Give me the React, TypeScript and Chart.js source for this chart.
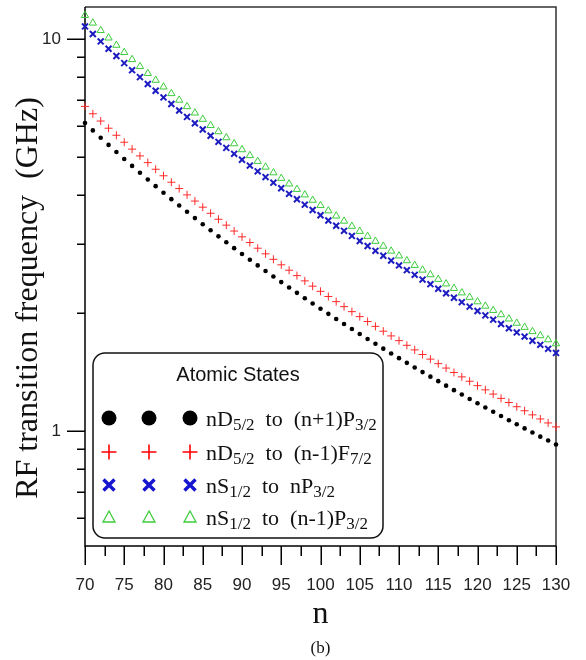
import React, { useEffect, useRef } from "react";
import { Chart, registerables } from "chart.js";

Chart.register(...registerables);

// ---------------- data ----------------
const N = [
  70, 71, 72, 73, 74, 75, 76, 77, 78, 79,
  80, 81, 82, 83, 84, 85, 86, 87, 88, 89,
  90, 91, 92, 93, 94, 95, 96, 97, 98, 99,
  100, 101, 102, 103, 104, 105, 106, 107, 108, 109,
  110, 111, 112, 113, 114, 115, 116, 117, 118, 119,
  120, 121, 122, 123, 124, 125, 126, 127, 128, 129,
  130,
];

// nD5/2 -> (n+1)P3/2
const D_TO_P = [
  6.105, 5.845, 5.6, 5.368, 5.149, 4.942, 4.746, 4.559, 4.383, 4.215,
  4.056, 3.905, 3.761, 3.625, 3.494, 3.37, 3.252, 3.139, 3.032, 2.929,
  2.831, 2.737, 2.647, 2.561, 2.479, 2.4, 2.325, 2.253, 2.183, 2.117,
  2.053, 1.992, 1.933, 1.876, 1.822, 1.77, 1.719, 1.671, 1.624, 1.579,
  1.536, 1.494, 1.454, 1.415, 1.378, 1.342, 1.307, 1.273, 1.241, 1.209,
  1.179, 1.15, 1.121, 1.094, 1.067, 1.042, 1.017, 0.993, 0.969, 0.947,
  0.925,
];

// nD5/2 -> (n-1)F7/2
const D_TO_F = [
  6.73, 6.445, 6.176, 5.921, 5.681, 5.453, 5.237, 5.033, 4.838, 4.654,
  4.479, 4.313, 4.155, 4.004, 3.861, 3.725, 3.594, 3.47, 3.352, 3.238,
  3.13, 3.027, 2.928, 2.833, 2.743, 2.656, 2.573, 2.493, 2.417, 2.343,
  2.273, 2.205, 2.14, 2.078, 2.018, 1.96, 1.904, 1.851, 1.799, 1.75,
  1.702, 1.656, 1.612, 1.569, 1.527, 1.487, 1.449, 1.412, 1.376, 1.341,
  1.307, 1.275, 1.244, 1.213, 1.184, 1.155, 1.128, 1.101, 1.075, 1.05,
  1.026,
];

// nS1/2 -> nP3/2
const S_TO_P = [
  10.76, 10.29, 9.854, 9.439, 9.046, 8.675, 8.324, 7.991, 7.676, 7.378,
  7.094, 6.825, 6.57, 6.327, 6.096, 5.876, 5.666, 5.466, 5.276, 5.094,
  4.921, 4.755, 4.597, 4.445, 4.301, 4.162, 4.029, 3.903, 3.781, 3.664,
  3.552, 3.444, 3.341, 3.242, 3.147, 3.055, 2.967, 2.883, 2.801, 2.723,
  2.647, 2.574, 2.504, 2.436, 2.371, 2.308, 2.248, 2.189, 2.133, 2.078,
  2.025, 1.974, 1.925, 1.877, 1.831, 1.786, 1.743, 1.701, 1.661, 1.622,
  1.584,
];

// nS1/2 -> (n-1)P3/2
const S_TO_PM1 = [
  11.48, 10.98, 10.51, 10.06, 9.638, 9.24, 8.863, 8.507, 8.169, 7.849,
  7.546, 7.258, 6.984, 6.724, 6.477, 6.242, 6.018, 5.805, 5.601, 5.407,
  5.222, 5.045, 4.876, 4.715, 4.56, 4.413, 4.271, 4.136, 4.006, 3.882,
  3.763, 3.648, 3.538, 3.433, 3.331, 3.234, 3.14, 3.05, 2.964, 2.88,
  2.8, 2.722, 2.648, 2.576, 2.507, 2.44, 2.376, 2.314, 2.254, 2.196,
  2.139, 2.085, 2.033, 1.983, 1.934, 1.886, 1.841, 1.796, 1.753, 1.712,
  1.672,
];

const X_MIN = 70;
const X_MAX = 130;
const X_TICKS = [
  70, 72.5, 75, 77.5, 80, 82.5, 85, 87.5, 90, 92.5, 95, 97.5, 100, 102.5,
  105, 107.5, 110, 112.5, 115, 117.5, 120, 122.5, 125, 127.5, 130,
];
const X_LABELED = [70, 75, 80, 85, 90, 95, 100, 105, 110, 115, 120, 125, 130];

const Y_MIN = 0.51;
const Y_MAX = 12.06;
const Y_TICKS = [0.6, 0.7, 0.8, 0.9, 1, 2, 3, 4, 5, 6, 7, 8, 9, 10];
const Y_LABELED = [1, 10];

const X_TITLE = "n";
const Y_TITLE = "RF transition frequency  (GHz)";
const CAPTION = "(b)";
const LEGEND_TITLE = "Atomic States";

type Part = [string, boolean];
const LEGEND_ROWS: Part[][] = [
  [["nD", false], ["5/2", true], ["  to  (n+1)P", false], ["3/2", true]],
  [["nD", false], ["5/2", true], ["  to  (n-1)F", false], ["7/2", true]],
  [["nS", false], ["1/2", true], ["  to  nP", false], ["3/2", true]],
  [["nS", false], ["1/2", true], ["  to  (n-1)P", false], ["3/2", true]],
];
const LEGEND_MARKERS = ["dot", "plus", "x", "tri"];

// ---------------- styles ----------------
const SERIF = '"Liberation Serif", "Times New Roman", serif';
const SANS = '"Liberation Sans", Arial, sans-serif';
const C_BLACK = "#000000";
const C_RED = "#ff2a2a";
const C_BLUE = "#1c1cc0";
const C_GREEN = "#3ccc3c";

function drawLegendMarker(ctx: CanvasRenderingContext2D, kind: string, x: number, y: number) {
  ctx.save();
  if (kind === "dot") {
    ctx.fillStyle = C_BLACK;
    ctx.beginPath();
    ctx.arc(x, y, 7.5, 0, Math.PI * 2);
    ctx.fill();
  } else if (kind === "plus") {
    ctx.strokeStyle = "#ff0000";
    ctx.lineWidth = 1.6;
    ctx.beginPath();
    ctx.moveTo(x - 7.5, y);
    ctx.lineTo(x + 7.5, y);
    ctx.moveTo(x, y - 7.5);
    ctx.lineTo(x, y + 7.5);
    ctx.stroke();
  } else if (kind === "x") {
    ctx.strokeStyle = "#1515d0";
    ctx.lineWidth = 3.4;
    ctx.beginPath();
    ctx.moveTo(x - 5.5, y - 5.5);
    ctx.lineTo(x + 5.5, y + 5.5);
    ctx.moveTo(x + 5.5, y - 5.5);
    ctx.lineTo(x - 5.5, y + 5.5);
    ctx.stroke();
  } else {
    ctx.strokeStyle = C_GREEN;
    ctx.lineWidth = 1.3;
    ctx.beginPath();
    ctx.moveTo(x, y - 6);
    ctx.lineTo(x + 6, y + 5);
    ctx.lineTo(x - 6, y + 5);
    ctx.closePath();
    ctx.stroke();
  }
  ctx.restore();
}

const decorPlugin = {
  id: "decor",
  beforeDatasetsDraw(chart: any) {
    const { ctx, chartArea: a, scales } = chart;
    const xs = scales.x;
    const ys = scales.y;
    ctx.save();
    ctx.lineCap = "butt";
    // frame top/right
    ctx.strokeStyle = "#333333";
    ctx.lineWidth = 1.5;
    ctx.beginPath();
    ctx.moveTo(a.left, a.top);
    ctx.lineTo(a.right, a.top);
    ctx.lineTo(a.right, a.bottom);
    ctx.stroke();
    // axes
    ctx.strokeStyle = "#000000";
    ctx.beginPath();
    ctx.moveTo(a.left, a.top);
    ctx.lineTo(a.left, a.bottom);
    ctx.lineTo(a.right, a.bottom);
    ctx.stroke();
    // x ticks
    ctx.lineWidth = 1.5;
    ctx.beginPath();
    for (const v of X_TICKS) {
      const px = Math.round(xs.getPixelForValue(v)) + 0.25;
      const len = X_LABELED.includes(v) ? 19 : 10;
      ctx.moveTo(px, a.bottom);
      ctx.lineTo(px, a.bottom + len);
    }
    // y ticks
    for (const v of Y_TICKS) {
      const py = Math.round(ys.getPixelForValue(v)) + 0.25;
      const len = Y_LABELED.includes(v) ? 18 : 8;
      ctx.moveTo(a.left, py);
      ctx.lineTo(a.left - len, py);
    }
    ctx.stroke();

    // titles
    ctx.fillStyle = "#111111";
    ctx.font = `32px ${SERIF}`;
    ctx.textAlign = "center";
    ctx.textBaseline = "alphabetic";
    ctx.fillText(X_TITLE, (a.left + a.right) / 2, 623);
    ctx.font = `17px ${SERIF}`;
    ctx.fillText(CAPTION, (a.left + a.right) / 2, 653);

    ctx.save();
    ctx.translate(37, 298);
    ctx.rotate(-Math.PI / 2);
    ctx.font = `32px ${SERIF}`;
    ctx.textAlign = "center";
    ctx.textBaseline = "alphabetic";
    ctx.fillText(Y_TITLE, 0, 0);
    ctx.restore();
    ctx.restore();
  },
  afterDatasetsDraw(chart: any) {
    const { ctx } = chart;
    ctx.save();
    // legend box
    ctx.beginPath();
    (ctx as any).roundRect(93, 353, 290, 185, 12);
    ctx.fillStyle = "#ffffff";
    ctx.fill();
    ctx.lineWidth = 1.5;
    ctx.strokeStyle = "#111111";
    ctx.stroke();

    ctx.fillStyle = "#111111";
    ctx.font = `20px ${SANS}`;
    ctx.textAlign = "center";
    ctx.textBaseline = "middle";
    ctx.fillText(LEGEND_TITLE, 238, 375);

    const rowY = [418, 452, 485, 517];
    const markX = [109, 149, 190];
    LEGEND_ROWS.forEach((parts, i) => {
      const yc = rowY[i];
      for (const mx of markX) drawLegendMarker(ctx, LEGEND_MARKERS[i], mx, yc);
      let x = 206;
      ctx.textAlign = "left";
      ctx.textBaseline = "alphabetic";
      ctx.fillStyle = "#111111";
      for (const [text, sub] of parts) {
        ctx.font = sub ? `17px ${SERIF}` : `22px ${SERIF}`;
        ctx.fillText(text, x, sub ? yc + 12 : yc + 8);
        x += ctx.measureText(text).width;
      }
    });
    ctx.restore();
  },
};

function pts(values: number[]) {
  return N.map((n, i) => ({ x: n, y: values[i] }));
}

export default function App() {
  const ref = useRef<HTMLCanvasElement | null>(null);

  useEffect(() => {
    if (!ref.current) return;
    const chart = new Chart(ref.current, {
      type: "scatter",
      data: {
        datasets: [
          {
            label: "nD5/2 to (n+1)P3/2",
            data: pts(D_TO_P),
            pointStyle: "circle",
            pointRadius: 2.3,
            backgroundColor: C_BLACK,
            borderColor: C_BLACK,
            borderWidth: 0,
            clip: false,
          },
          {
            label: "nD5/2 to (n-1)F7/2",
            data: pts(D_TO_F),
            pointStyle: "cross",
            pointRadius: 4,
            borderColor: C_RED,
            backgroundColor: C_RED,
            borderWidth: 1,
            clip: false,
          },
          {
            label: "nS1/2 to nP3/2",
            data: pts(S_TO_P),
            pointStyle: "crossRot",
            pointRadius: 4.2,
            borderColor: C_BLUE,
            backgroundColor: C_BLUE,
            borderWidth: 2,
            clip: false,
          },
          {
            label: "nS1/2 to (n-1)P3/2",
            data: pts(S_TO_PM1),
            pointStyle: "triangle",
            pointRadius: 4.2,
            borderColor: C_GREEN,
            backgroundColor: "rgba(0,0,0,0)",
            borderWidth: 1,
            clip: false,
          },
        ] as any,
      },
      options: {
        responsive: false,
        animation: false,
        events: [],
        layout: { padding: { left: 0, top: 7, right: 30, bottom: 0 } },
        plugins: {
          legend: { display: false },
          tooltip: { enabled: false },
          title: { display: false },
        },
        scales: {
          x: {
            type: "linear",
            min: X_MIN,
            max: X_MAX,
            grid: { display: false, drawTicks: false },
            border: { display: false },
            afterBuildTicks: (s: any) => {
              s.ticks = X_TICKS.map((v) => ({ value: v }));
            },
            afterFit: (s: any) => {
              s.height = 114;
              s.paddingLeft = 0;
              s.paddingRight = 0;
            },
            ticks: {
              autoSkip: false,
              maxRotation: 0,
              minRotation: 0,
              padding: 29,
              color: "#222222",
              font: { family: SANS, size: 17 },
              callback: (v: any) => (X_LABELED.includes(Number(v)) ? String(v) : ""),
            },
          },
          y: {
            type: "logarithmic",
            min: Y_MIN,
            max: Y_MAX,
            grid: { display: false, drawTicks: false },
            border: { display: false },
            afterBuildTicks: (s: any) => {
              s.ticks = Y_TICKS.map((v) => ({ value: v }));
            },
            afterFit: (s: any) => {
              s.width = 85;
              s.paddingTop = 0;
              s.paddingBottom = 0;
            },
            ticks: {
              autoSkip: false,
              padding: 24,
              color: "#222222",
              font: { family: SANS, size: 17 },
              callback: (v: any) => (Y_LABELED.includes(Number(v)) ? String(v) : ""),
            },
          },
        },
      },
      plugins: [decorPlugin],
    });
    return () => chart.destroy();
  }, []);

  return (
    <div
      style={{
        position: "fixed",
        left: 0,
        top: 0,
        width: 586,
        height: 660,
        background: "#ffffff",
      }}
    >
      <canvas ref={ref} width={586} height={660} style={{ display: "block" }} />
    </div>
  );
}
